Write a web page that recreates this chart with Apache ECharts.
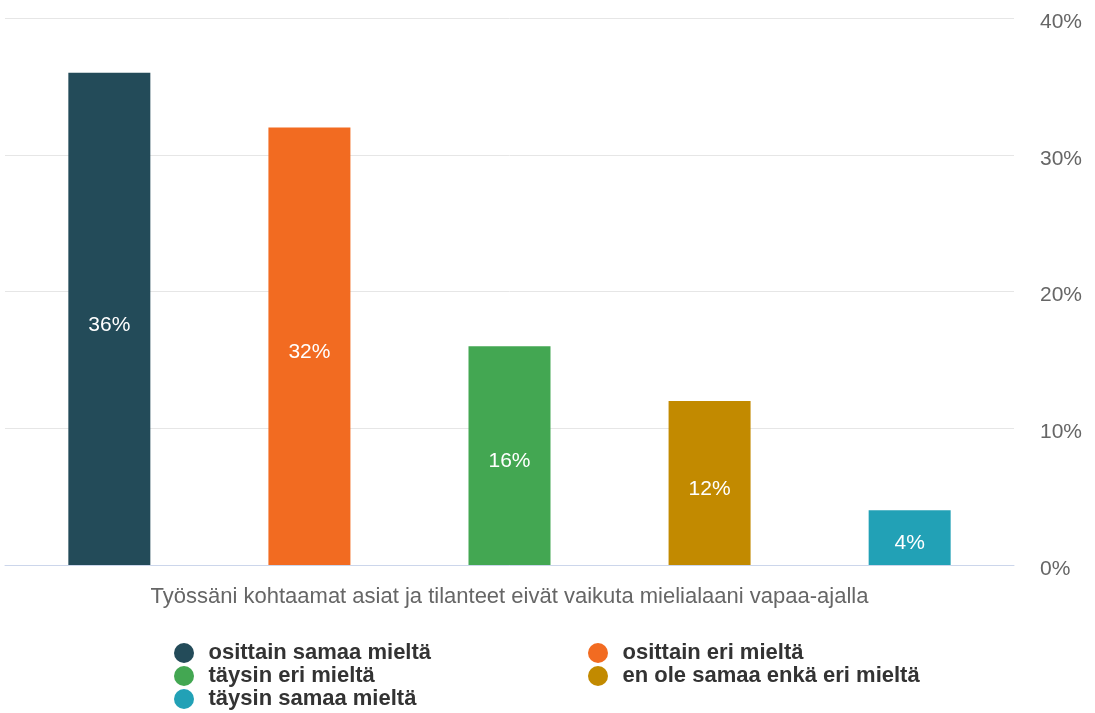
<!DOCTYPE html>
<html>
<head>
<meta charset="utf-8">
<script src="https://cdn.jsdelivr.net/npm/echarts@6/dist/echarts.min.js"></script>
<style>
    html, body { margin: 0; padding: 0; background: #fff; }
    #chart { width: 1095px; height: 713px; }
</style>
</head>
<body>
<div id="chart"></div>
<script>
var categories = ['Työssäni kohtaamat asiat ja tilanteet eivät vaikuta mielialaani vapaa-ajalla'];
var seriesNames = ['osittain samaa mieltä', 'osittain eri mieltä', 'täysin eri mieltä', 'en ole samaa enkä eri mieltä', 'täysin samaa mieltä'];
var seriesValues = [36, 32, 16, 12, 4];
var seriesColors = ['#234b59', '#f26b21', '#43a752', '#c28a00', '#22a1b6'];
var yTicks = [0, 10, 20, 30, 40];

var chart = echarts.init(document.getElementById('chart'));
var font = "'Liberation Sans', Arial, sans-serif";

var series = [];
for (var i = 0; i < seriesNames.length; i++) {
    series.push({
        name: seriesNames[i],
        type: 'bar',
        data: [seriesValues[i]],
        barWidth: 82,
        barGap: '144%',
        itemStyle: { color: seriesColors[i] },
        label: {
            show: true,
            position: 'inside',
            offset: [0, 6],
            formatter: '{c}%',
            color: '#fff',
            fontSize: 21,
            fontFamily: font
        }
    });
}

var legendStyle = {
    orient: 'vertical',
    top: 637,
    height: 80,
    icon: 'circle',
    itemWidth: 39,
    itemHeight: 20,
    itemGap: 1,
    textStyle: { fontSize: 22, fontWeight: 'bold', color: '#333', fontFamily: font }
};

var option = {
    animation: false,
    grid: { left: 5, right: 81, top: 18, bottom: 148 },
    legend: [
        Object.assign({ left: 169, data: [seriesNames[0], seriesNames[2], seriesNames[4]] }, legendStyle),
        Object.assign({ left: 583, data: [seriesNames[1], seriesNames[3]] }, legendStyle)
    ],
    xAxis: {
        type: 'category',
        data: categories,
        axisLine: { lineStyle: { color: '#ccd6eb' } },
        axisTick: { show: false },
        axisLabel: { color: '#666', fontSize: 22, margin: 21, fontFamily: font }
    },
    yAxis: {
        type: 'value',
        position: 'right',
        min: yTicks[0],
        max: yTicks[yTicks.length - 1],
        interval: 10,
        axisLine: { show: false },
        axisTick: { show: false },
        splitLine: { lineStyle: { color: '#e6e6e6' } },
        axisLabel: {
            formatter: '{p|{value}%}',
            margin: 26,
            rich: { p: { color: '#666', fontSize: 21, fontFamily: font, padding: [8, 0, 0, 0] } }
        }
    },
    series: series
};
chart.setOption(option);
</script>
</body>
</html>
